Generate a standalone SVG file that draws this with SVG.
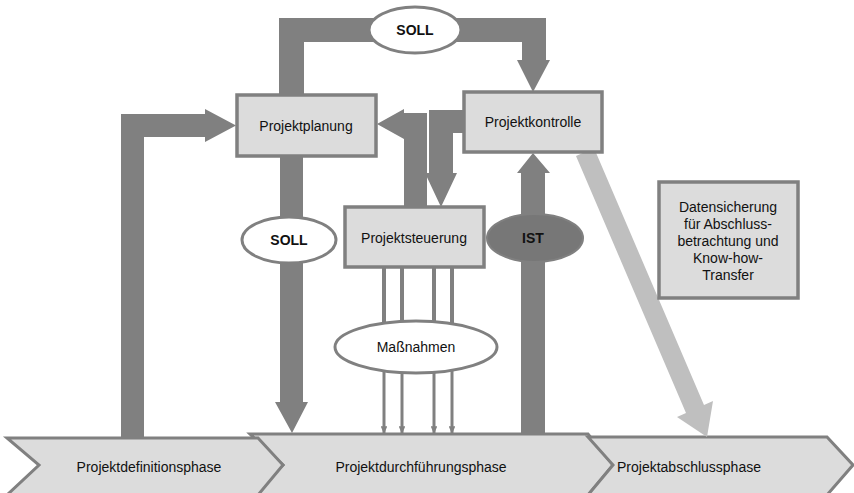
<svg xmlns="http://www.w3.org/2000/svg" width="854" height="493" viewBox="0 0 854 493">
  <defs>
    <style>
      .flow { fill: #808080; stroke: none; }
      .export { fill: #bfbfbf; stroke: none; }
      .box { fill: #dcdcdc; stroke: #808080; stroke-width: 3.5; }
      .phase { fill: #dcdcdc; stroke: #808080; stroke-width: 3; stroke-linejoin: miter; }
      .oval { fill: #ffffff; stroke: #808080; stroke-width: 3; }
      .oval-dark { fill: #777777; stroke: #808080; stroke-width: 2; }
      .wire { stroke: #808080; stroke-width: 4; fill: none; }
      .wire-arrow { stroke: #808080; stroke-width: 3; fill: none; marker-end: url(#tip); }
      text { font-family: "Liberation Sans", Arial, sans-serif; font-size: 14px; fill: #111111; text-anchor: middle; }
      .bold { font-weight: bold; }
    </style>
    <marker id="tip" viewBox="0 0 8 7" refX="7" refY="3.5" markerWidth="2.6" markerHeight="2.3" orient="auto" markerUnits="strokeWidth">
      <path d="M0,0 L8,3.5 L0,7 Z" fill="#808080"/>
    </marker>
  </defs>

  <!-- phase chevrons -->
  <g id="phase-durchfuehrung">
    <polygon class="phase" points="250,434 588,434 613,465 588,495 250,495 283,465"/>
    <text x="421" y="472">Projektdurchführungsphase</text>
  </g>
  <g id="phase-definition">
    <polygon class="phase" points="7,438 258,438 283,465 258,495 7,495 39,465"/>
    <text x="149" y="472">Projektdefinitionsphase</text>
  </g>
  <g id="phase-abschluss">
    <polygon class="phase" points="588,437 827,437 853,465 827,495 588,495 613,465"/>
    <text x="617" y="472" style="text-anchor:start">Projektabschlussphase</text>
  </g>

  <!-- connectors -->
  <g id="connectors">
    <!-- definition phase feeds planning -->
    <polygon class="flow" points="121,438 121,114 205,114 205,109 236,125.5 205,142 205,137 144,137 144,438"/>
    <!-- planning SOLL loop to control -->
    <polygon class="flow" points="279,95 279,18 546,18 546,60 550,60 533,92 517,60 522,60 522,42 304,42 304,95"/>
    <!-- planning SOLL down to execution -->
    <polygon class="flow" points="280,156 303,156 303,402 308,402 292,433 275,402 280,402"/>
    <!-- steering back to planning -->
    <polygon class="flow" points="377,124 404,109 404,113 427,113 427,207 404,207 404,139"/>
    <!-- control to steering -->
    <polygon class="flow" points="464,110 429,110 429,173 425,173 441,207 457,173 453,173 453,133 464,133"/>
    <!-- IST from execution up to control -->
    <polygon class="flow" points="521,434 521,173 517,173 533,153 550,173 545,173 545,434"/>
    <!-- data handover to closing phase -->
    <polygon class="export" points="576,156 594,148 704,405 713,401 707,437 677,417 686,413"/>
    <!-- measures -->
    <line class="wire" x1="384" y1="267" x2="384" y2="335"/>
    <line class="wire" x1="402" y1="267" x2="402" y2="335"/>
    <line class="wire" x1="434" y1="267" x2="434" y2="335"/>
    <line class="wire" x1="452" y1="267" x2="452" y2="335"/>
    <line class="wire-arrow" x1="384" y1="365" x2="384" y2="433"/>
    <line class="wire-arrow" x1="402" y1="365" x2="402" y2="433"/>
    <line class="wire-arrow" x1="434" y1="365" x2="434" y2="433"/>
    <line class="wire-arrow" x1="452" y1="365" x2="452" y2="433"/>
  </g>

  <!-- nodes -->
  <g id="projektplanung">
    <rect class="box" x="237" y="95" width="139" height="61"/>
    <text x="306" y="131">Projektplanung</text>
  </g>
  <g id="projektkontrolle">
    <rect class="box" x="464" y="92" width="138" height="60"/>
    <text x="533" y="127">Projektkontrolle</text>
  </g>
  <g id="projektsteuerung">
    <rect class="box" x="345" y="207" width="139" height="60"/>
    <text x="414" y="243">Projektsteuerung</text>
  </g>
  <g id="datensicherung">
    <rect class="box" x="659" y="182" width="139" height="116"/>
    <text x="728" y="212">Datensicherung</text>
    <text x="728" y="229">für Abschluss-</text>
    <text x="728" y="246">betrachtung und</text>
    <text x="728" y="263">Know-how-</text>
    <text x="728" y="280">Transfer</text>
  </g>
  <g id="soll-oben">
    <ellipse class="oval" cx="415" cy="30" rx="46" ry="23"/>
    <text class="bold" x="415" y="35">SOLL</text>
  </g>
  <g id="soll-unten">
    <ellipse class="oval" cx="289" cy="240" rx="47" ry="23"/>
    <text class="bold" x="289" y="245">SOLL</text>
  </g>
  <g id="ist">
    <ellipse class="oval-dark" cx="535" cy="238" rx="48" ry="24"/>
    <text class="bold" x="533" y="243">IST</text>
  </g>
  <g id="massnahmen">
    <ellipse class="oval" cx="416" cy="347" rx="81" ry="26"/>
    <text x="416" y="352">Maßnahmen</text>
  </g>
</svg>
